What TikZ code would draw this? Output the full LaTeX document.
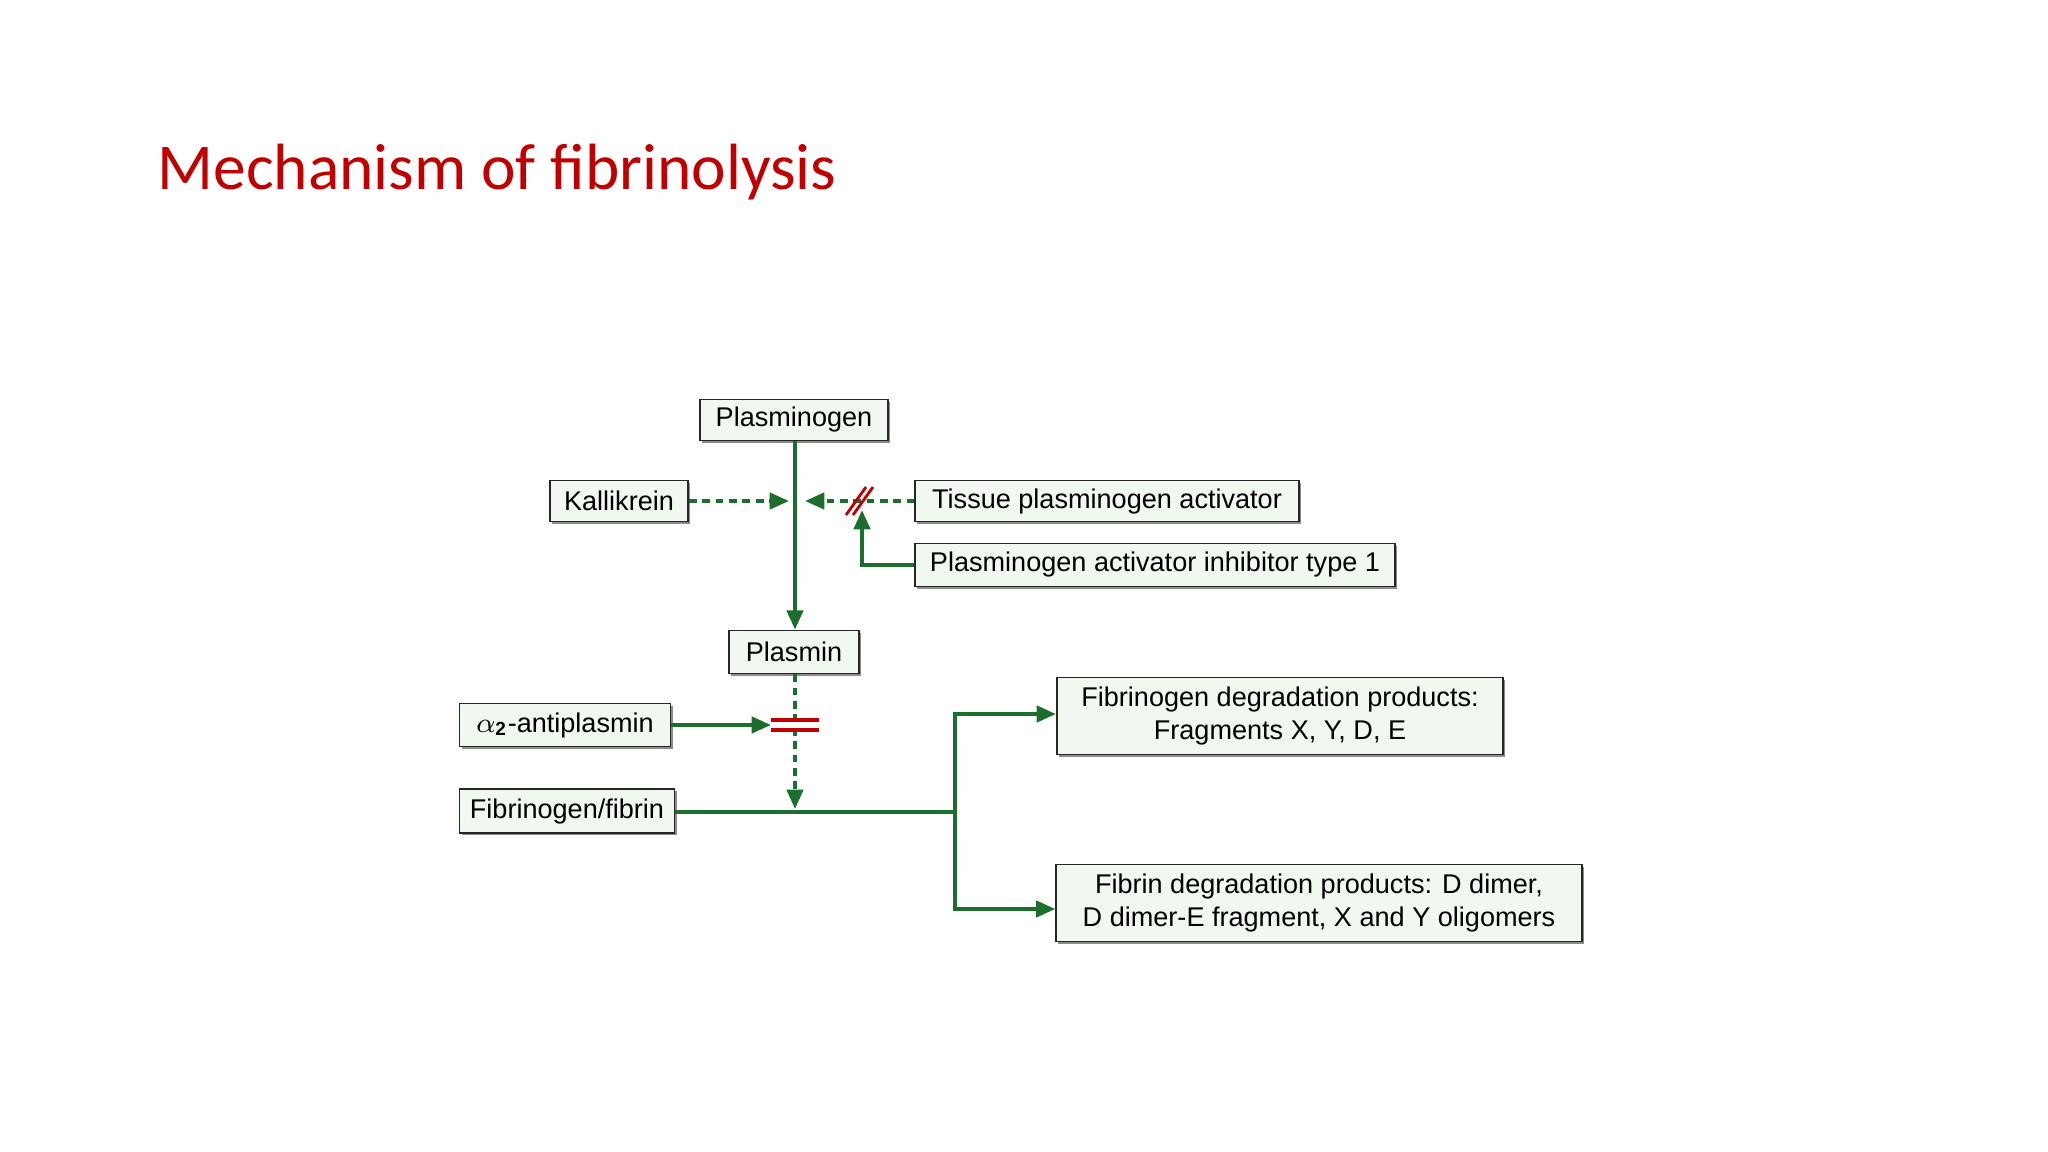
\documentclass[tikz,border=0pt]{standalone}
\usepackage{fontspec}
\setmainfont{Liberation Sans}
\newfontfamily\titlefont{Carlito}
\usetikzlibrary{arrows.meta,shadows,calc}
\definecolor{dg}{HTML}{1B6E2C}
\definecolor{boxfill}{HTML}{F1F8F0}
\definecolor{tred}{HTML}{C00000}
\tikzset{
 bx/.style={draw=black!85,line width=0.5pt,fill=boxfill,inner sep=0pt,align=center,font=\fontsize{7.7}{9.3}\selectfont,
   drop shadow={shadow xshift=0.6pt,shadow yshift=-0.6pt,fill=black!45,opacity=1}},
 ln/.style={draw=dg,line width=1.1pt},
 ar/.style={ln,-{Triangle[length=5.5pt,width=4.6pt]}},
 dsh/.style={dash pattern=on 2.2pt off 1.6pt},
 redm/.style={draw=tred,line width=0.8pt}
}
\begin{document}
\begin{tikzpicture}[x=0.01cm,y=-0.01cm]
\useasboundingbox (0,0) rectangle (2048,1152);
\node[anchor=west,inner sep=0pt,text=tred,font=\titlefont\fontsize{18.6}{21}\selectfont] (title) at (157,172) {Mechanism of fibrinolysis};
\node[bx,minimum width=53.5pt,minimum height=11.7pt] (pg) at (794,420) {Plasminogen};
\node[bx,minimum width=39.3pt,minimum height=11.7pt] (kal) at (619,501) {Kallikrein};
\node[bx,minimum width=109pt,minimum height=11.7pt] (tpa) at (1107,501) {Tissue plasminogen activator};
\node[bx,minimum width=136.6pt,minimum height=12.2pt] (pai) at (1155,565) {Plasminogen activator inhibitor type 1};
\node[bx,minimum width=37pt,minimum height=12.2pt] (pl) at (794,652) {Plasmin};
\node[bx,minimum width=60pt,minimum height=12.2pt] (a2) at (565,725) {$\alpha_{\mathbf 2}$-antiplasmin};
\node[bx,minimum width=61.2pt,minimum height=12.5pt] (ff) at (567,811) {Fibrinogen/fibrin};
\node[bx,minimum width=126.9pt,minimum height=21.9pt] (fdp) at (1280,716) {Fibrinogen degradation products:\\Fragments X, Y, D, E};
\node[bx,minimum width=149.4pt,minimum height=21.9pt] (fbdp) at (1319,903) {Fibrin degradation products: D dimer,\\D dimer-E fragment, X and Y oligomers};
\coordinate (j) at (795,501);
\coordinate (pi) at (862,501);
\coordinate (fj) at (795,812);
\coordinate (br) at (955,812);
\coordinate (rm) at (795,725);
% main vertical
\draw[ar] (pg.south -| j) -- (pl.north -| j);
\draw[ar,dsh] (kal.east) -- ($(j)+(-6,0)$);
\draw[ar,dsh] (tpa.west) -- ($(j)+(10,0)$);
\draw[ar] (pai.west) -| ($(pi)+(0,9)$);
\draw[redm] ($(pi)+(-16,14)$) -- ($(pi)+(4,-14)$);
\draw[redm] ($(pi)+(-9,14)$) -- ($(pi)+(11,-14)$);
% plasmin to fibrin
\draw[ar,dsh] (pl.south -| j) -- ($(fj)+(0,-3)$);
\draw[ar] (a2.east) -- ($(rm)+(-24,0)$);
\draw[redm,line width=1pt] ($(rm)+(-24,-5)$) -- ($(rm)+(24,-5)$);
\draw[redm,line width=1pt] ($(rm)+(-24,5)$) -- ($(rm)+(24,5)$);
\draw[ln] (ff.east |- fj) -- (br);
\draw[ar] (br) |- (fdp.west |- 0,714);
\draw[ar] (br) |- (fbdp.west |- 0,909);
\end{tikzpicture}
\end{document}
